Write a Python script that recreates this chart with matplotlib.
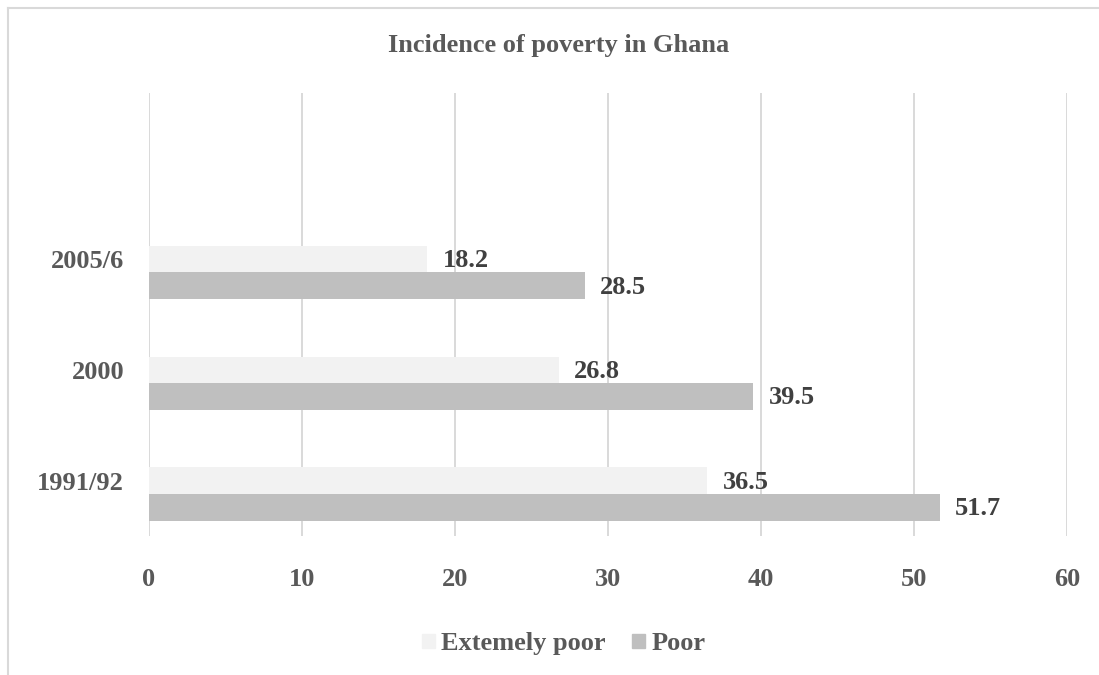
import matplotlib
matplotlib.use("Agg")
import matplotlib.pyplot as plt
from matplotlib.lines import Line2D
from matplotlib.patches import Patch

# poverty incidence (%) by survey round
rounds = ["1991/92", "2000", "2005/6"]
extremely_poor = [36.5, 26.8, 18.2]
poor = [51.7, 39.5, 28.5]
x_ticks = [0, 10, 20, 30, 40, 50, 60]

light = "#f2f2f2"
dark = "#bfbfbf"
grid_c = "#d9d9d9"
txt = "#595959"
lbl = "#404040"

plt.rcParams["font.family"] = ["Liberation Serif", "DejaVu Serif"]
plt.rcParams["font.weight"] = "bold"

fig = plt.figure(figsize=(10.99, 6.75), dpi=100)
ax = fig.add_axes([0.1356, 0.2059, 0.8353, 0.6563])

h = 0.24
pos = list(range(len(rounds)))
b1 = ax.barh([p for p in pos], extremely_poor, height=h, color=light, zorder=2)
b2 = ax.barh([p - h for p in pos], poor, height=h, color=dark, zorder=2)

for bars, vals in ((b1, extremely_poor), (b2, poor)):
    for r, v in zip(bars, vals):
        ax.annotate(f"{v}", (v, r.get_y() + r.get_height() / 2),
                    xytext=(11, -1), textcoords="offset points",
                    ha="left", va="center", fontsize=19, color=lbl,
                    fontweight="bold")

ax.set_xlim(0, 60)
ax.set_ylim(-0.5, 3.5)
ax.set_xticks(x_ticks)
ax.set_yticks(pos)
ax.set_yticklabels(rounds)
ax.tick_params(length=0, labelsize=19, labelcolor=txt)
ax.tick_params(axis="x", pad=23)
ax.tick_params(axis="y", pad=18)
ax.xaxis.grid(True, color=grid_c, linewidth=1.4, zorder=0)
for s in ax.spines.values():
    s.set_visible(False)

fig.text(0.508, 0.933, "Incidence of poverty in Ghana", ha="center",
         va="center", fontsize=19, color=txt, fontweight="bold")

handles = [Patch(color=light, label="Extemely poor"),
           Patch(color=dark, label="Poor")]
fig.legend(handles=handles, loc="center", bbox_to_anchor=(0.513, 0.046),
           ncol=2, frameon=False, fontsize=19, labelcolor=txt,
           handlelength=0.48, handleheight=0.48, handletextpad=0.25,
           columnspacing=1.0)

# chart frame, top and left edges
fig.add_artist(Line2D([8 / 1099, 1], [1 - 8 / 675, 1 - 8 / 675],
                      color=grid_c, linewidth=1.5, transform=fig.transFigure))
fig.add_artist(Line2D([8 / 1099, 8 / 1099], [0, 1 - 8 / 675],
                      color=grid_c, linewidth=1.5, transform=fig.transFigure))

fig.savefig("out.png", dpi=100)
